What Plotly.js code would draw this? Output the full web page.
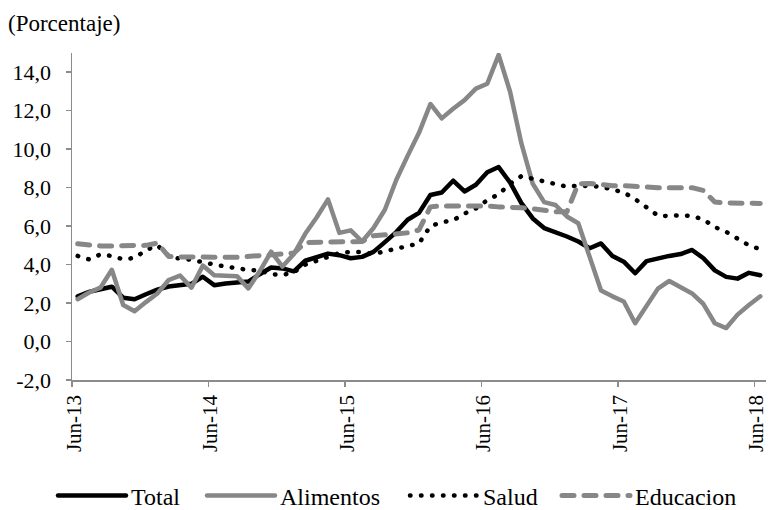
<!DOCTYPE html>
<html>
<head>
<meta charset="utf-8">
<script src="https://cdn.plot.ly/plotly-3.0.1.min.js"></script>
<style>
  html, body { margin: 0; padding: 0; background: #fff; }
  #chart { width: 769px; height: 510px; }
  .js-line { stroke-linecap: round; stroke-linejoin: round; }
</style>
</head>
<body>
<div id="chart"></div>
<script>
// Monthly categories, Jun-13 .. Jun-18
const months = [
  "Jun-13","Jul-13","Ago-13","Sep-13","Oct-13","Nov-13","Dic-13","Ene-14","Feb-14","Mar-14","Abr-14","May-14",
  "Jun-14","Jul-14","Ago-14","Sep-14","Oct-14","Nov-14","Dic-14","Ene-15","Feb-15","Mar-15","Abr-15","May-15",
  "Jun-15","Jul-15","Ago-15","Sep-15","Oct-15","Nov-15","Dic-15","Ene-16","Feb-16","Mar-16","Abr-16","May-16",
  "Jun-16","Jul-16","Ago-16","Sep-16","Oct-16","Nov-16","Dic-16","Ene-17","Feb-17","Mar-17","Abr-17","May-17",
  "Jun-17","Jul-17","Ago-17","Sep-17","Oct-17","Nov-17","Dic-17","Ene-18","Feb-18","Mar-18","Abr-18","May-18",
  "Jun-18"
];

const total = [
  2.35, 2.58, 2.72, 2.85, 2.28, 2.20, 2.46, 2.70, 2.86, 2.93, 3.00, 3.37,
  2.93, 3.02, 3.08, 3.12, 3.50, 3.85, 3.80, 3.65, 4.20, 4.40, 4.57, 4.49,
  4.33, 4.40, 4.66, 5.17, 5.69, 6.33, 6.69, 7.62, 7.75, 8.36, 7.80, 8.15,
  8.80, 9.07, 8.27, 7.20, 6.40, 5.90, 5.70, 5.46, 5.20, 4.85, 5.10, 4.45,
  4.15, 3.55, 4.18, 4.33, 4.45, 4.55, 4.76, 4.33, 3.70, 3.36, 3.27, 3.57,
  3.45
];

const alimentos = [
  2.20, 2.55, 2.80, 3.73, 1.90, 1.57, 2.05, 2.50, 3.20, 3.43, 2.80, 3.95,
  3.45, 3.45, 3.40, 2.76, 3.65, 4.67, 3.90, 4.55, 5.60, 6.45, 7.39, 5.65,
  5.78, 5.20, 5.90, 6.85, 8.40, 9.65, 10.85, 12.35, 11.60, 12.10, 12.55, 13.15,
  13.40, 14.90, 13.00, 10.30, 8.20, 7.25, 7.10, 6.50, 6.15, 4.40, 2.65, 2.35,
  2.08, 0.95, 1.90, 2.75, 3.15, 2.80, 2.50, 1.95, 0.95, 0.70, 1.40, 1.90,
  2.35
];

const salud = [
  4.45, 4.27, 4.53, 4.45, 4.27, 4.35, 4.75, 5.00, 4.45, 4.30, 4.25, 4.10,
  4.00, 3.90, 3.80, 3.72, 3.70, 3.50, 3.46, 3.60, 4.00, 4.20, 4.40, 4.60,
  4.66, 4.65, 4.55, 4.70, 4.85, 5.00, 5.10, 6.00, 6.20, 6.30, 6.65, 6.92,
  7.35, 7.65, 8.20, 8.60, 8.45, 8.30, 8.20, 8.05, 8.10, 8.10, 8.05, 7.90,
  7.75, 7.40, 7.00, 6.55, 6.52, 6.57, 6.52, 6.35, 5.95, 5.70, 5.35, 5.00,
  4.80
];

const educacion = [
  5.08, 5.00, 4.97, 4.97, 4.97, 4.97, 5.00, 5.12, 4.42, 4.40, 4.38, 4.38,
  4.38, 4.38, 4.38, 4.42, 4.50, 4.52, 4.52, 4.60, 5.15, 5.15, 5.15, 5.18,
  5.18, 5.20, 5.50, 5.55, 5.60, 5.65, 5.80, 7.00, 7.05, 7.05, 7.05, 7.10,
  7.05, 7.00, 7.00, 6.95, 6.90, 6.80, 6.75, 6.75, 8.20, 8.22, 8.15, 8.10,
  8.10, 8.05, 8.05, 8.00, 8.00, 8.00, 8.00, 7.85, 7.25, 7.20, 7.18, 7.18,
  7.18
];

// Axis tick labels
const xTickLabels = ["Jun-13","Jun-14","Jun-15","Jun-16","Jun-17","Jun-18"];
const yTickValues = [-2, 0, 2, 4, 6, 8, 10, 12, 14];
const yTickLabels = ["-2,0","0,0","2,0","4,0","6,0","8,0","10,0","12,0","14,0"];

const seriesNames = ["Total", "Alimentos", "Salud", "Educacion"];

// category index positions (one per month)
const xPos = months.map((m, i) => i);
// ticks sit on the category boundary in front of each June label
const xTickPos = xTickLabels.map(lbl => months.indexOf(lbl) - 0.5);

const FONT = "Liberation Serif";
const GRAY = "#878787";
const AXIS = "#8c8c8c";

const traces = [
  { name: seriesNames[0], y: total, legend: "legend",
    line: { color: "#000000", width: 4.5 } },
  { name: seriesNames[1], y: alimentos, legend: "legend2",
    line: { color: GRAY, width: 4.5 } },
  { name: seriesNames[2], y: salud, legend: "legend3",
    line: { color: "#000000", width: 4.5, dash: "0.5px,10.5px" } },
  { name: seriesNames[3], y: educacion, legend: "legend4",
    line: { color: GRAY, width: 5, dash: "12px,10px" } }
].map(t => Object.assign({
  type: "scatter", mode: "lines", x: xPos, text: months, hoverinfo: "text+y+name"
}, t));

function legendAt(px) {
  return {
    orientation: "h",
    xref: "container", yref: "container",
    x: px / 769, xanchor: "left",
    y: 1 - 496 / 510, yanchor: "middle",
    itemwidth: 68,
    font: { family: FONT, size: 24, color: "#000000" },
    bgcolor: "rgba(0,0,0,0)", borderwidth: 0
  };
}

const layout = {
  width: 769, height: 510,
  margin: { l: 72, r: 3, t: 53, b: 130 },
  paper_bgcolor: "#ffffff", plot_bgcolor: "#ffffff",
  font: { family: FONT, size: 22, color: "#000000" },
  title: {
    text: "(Porcentaje)",
    xref: "container", yref: "container",
    x: 8 / 769, xanchor: "left",
    y: 1 - 23 / 510, yanchor: "middle",
    font: { family: FONT, size: 23, color: "#000000" }
  },
  xaxis: {
    type: "linear",
    range: [-0.5, months.length - 0.5],
    showgrid: false, zeroline: false,
    showline: true, linecolor: AXIS, linewidth: 1.5,
    ticks: "outside", ticklen: 5, tickwidth: 1.5, tickcolor: AXIS,
    tickmode: "array", tickvals: xTickPos, ticktext: xTickLabels,
    tickangle: -90, ticklabelshift: 2, ticklabelstandoff: 0,
    ticklabeloverflow: "allow",
    tickfont: { family: FONT, size: 21, color: "#000000" }
  },
  yaxis: {
    range: [-2, 15],
    showgrid: false, zeroline: false,
    showline: true, linecolor: AXIS, linewidth: 1.5,
    ticks: "outside", ticklen: 5, tickwidth: 1.5, tickcolor: AXIS,
    tickmode: "array", tickvals: yTickValues, ticktext: yTickLabels,
    ticklabelstandoff: 10,
    tickfont: { family: FONT, size: 22, color: "#000000" }
  },
  showlegend: true,
  legend: legendAt(53),
  legend2: legendAt(202),
  legend3: legendAt(405),
  legend4: legendAt(557)
};

Plotly.newPlot("chart", traces, layout, { displayModeBar: false, staticPlot: true });
</script>
</body>
</html>
